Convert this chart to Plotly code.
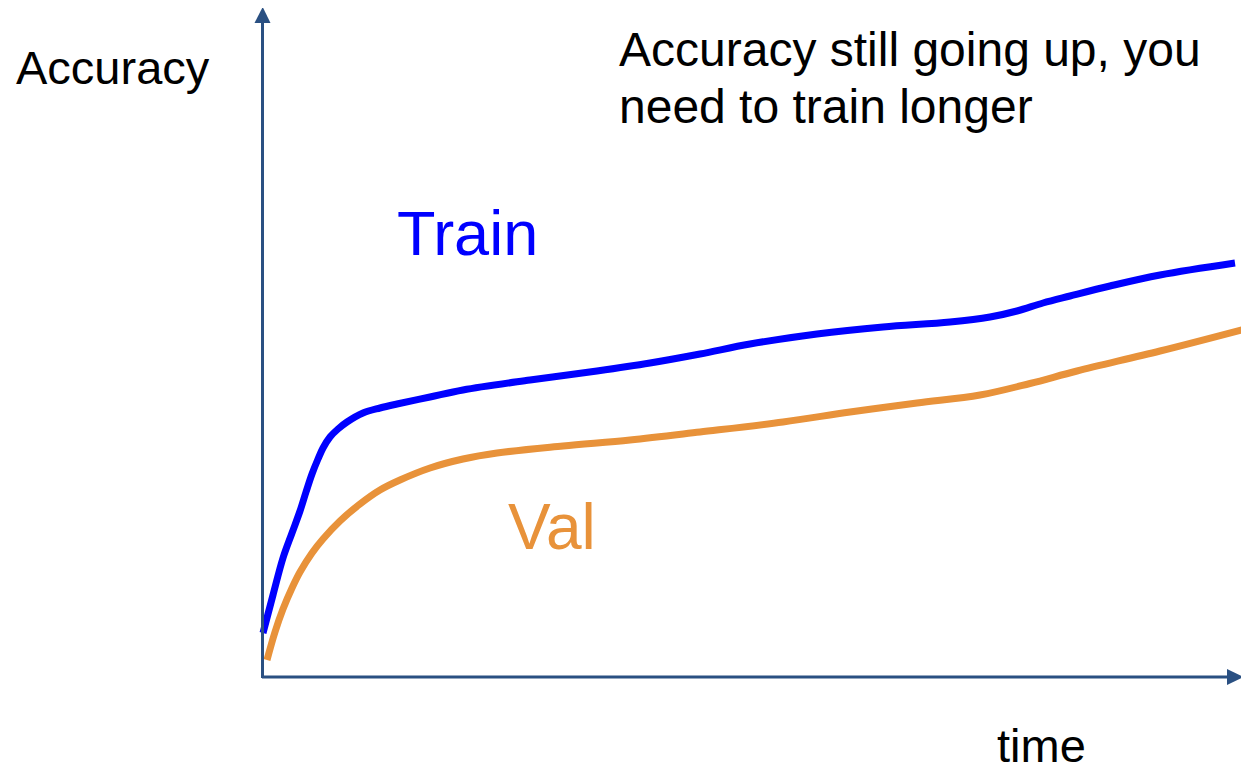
import plotly.graph_objects as go

# Values (time units, accuracy units; origin at the axes corner)
train_time = [0.1, 1.1, 2.1, 3.0, 3.8, 4.4, 5.0, 5.6, 6.1, 6.8, 7.6, 8.5, 10.1, 11.8, 13.5, 16.8, 20.1, 26.8,
              33.5, 38.8, 43.8, 48.8, 55.5, 62.1, 68.8, 72.8, 75.5, 78.1, 80.8, 84.8, 89.8, 97.3]
train_acc = [4.5, 8.3, 12.0, 14.5, 16.7, 18.6, 20.4, 21.9, 23.0, 24.1, 24.9, 25.6, 26.5, 27.0, 27.4, 28.1, 28.8, 29.8,
             30.7, 31.5, 32.4, 33.4, 34.4, 35.1, 35.6, 36.1, 36.7, 37.5, 38.2, 39.2, 40.3, 41.5]

val_time = [0.5, 1.3, 2.1, 3.0, 3.8, 5.0, 6.1, 7.8, 9.8, 11.8, 13.8, 16.8, 20.1, 23.5, 30.1, 36.8, 43.8,
            52.1, 58.8, 65.5, 71.8, 76.8, 81.5, 89.8, 98.3]
val_acc = [1.8, 4.6, 6.9, 9.0, 10.6, 12.5, 13.9, 15.7, 17.4, 18.8, 19.8, 21.0, 21.9, 22.5, 23.2, 23.8, 24.6,
           25.6, 26.6, 27.5, 28.3, 29.45, 30.7, 32.7, 34.9]

BLUE = "#0000FF"
ORANGE = "#E8923A"
AXIS = "#2A5082"
FONT = "Liberation Sans, Arial, sans-serif"

fig = go.Figure()
fig.add_trace(go.Scatter(x=train_time, y=train_acc, mode="lines",
                         line=dict(color=BLUE, width=7, shape="spline", smoothing=1.0),
                         hoverinfo="skip"))
fig.add_trace(go.Scatter(x=val_time, y=val_acc, mode="lines",
                         line=dict(color=ORANGE, width=7, shape="spline", smoothing=1.0),
                         hoverinfo="skip"))

shapes = [
    # y axis
    dict(type="line", x0=0.05, y0=0, x1=0.05, y1=65.5, line=dict(color=AXIS, width=3)),
    dict(type="path", path="M -0.75 65.5 L 0.85 65.5 L 0.07 67.1 Z",
         fillcolor=AXIS, line=dict(color=AXIS, width=0)),
    # x axis
    dict(type="line", x0=0, y0=0.1, x1=96.6, y1=0.1, line=dict(color=AXIS, width=3)),
    dict(type="path", path="M 96.5 0.9 L 96.5 -0.7 L 98.13 0.1 Z",
         fillcolor=AXIS, line=dict(color=AXIS, width=0)),
]

annotations = [
    dict(x=-24.8, y=61.1, text="Accuracy", showarrow=False, xanchor="left", yanchor="middle",
         font=dict(family=FONT, size=47, color="black")),
    dict(x=35.5, y=62.9, text="Accuracy still going up, you",
         showarrow=False, xanchor="left", yanchor="middle",
         font=dict(family=FONT, size=48, color="black")),
    dict(x=35.5, y=57.2, text="need to train longer",
         showarrow=False, xanchor="left", yanchor="middle",
         font=dict(family=FONT, size=48, color="black")),
    dict(x=20.5, y=44.5, text="Train", showarrow=False, xanchor="center", yanchor="middle",
         font=dict(family=FONT, size=63, color=BLUE)),
    dict(x=29.0, y=15.1, text="Val", showarrow=False, xanchor="center", yanchor="middle",
         font=dict(family=FONT, size=64, color=ORANGE)),
    dict(x=77.9, y=-6.7, text="time", showarrow=False, xanchor="center", yanchor="middle",
         font=dict(family=FONT, size=47, color="black")),
]

# The page body adds an 8px margin, so the figure is 8px smaller and the ranges
# are set so that the axes corner lands where it is in the reference.
fig.update_layout(
    width=1241, height=764, autosize=False,
    margin=dict(l=0, r=0, t=0, b=0, pad=0),
    paper_bgcolor="white", plot_bgcolor="white",
    showlegend=False,
    xaxis=dict(range=[-25.4, 98.7], visible=False, fixedrange=True),
    yaxis=dict(range=[-9.4, 67.0], visible=False, fixedrange=True),
    shapes=shapes, annotations=annotations,
)

fig.write_html("out.html")
